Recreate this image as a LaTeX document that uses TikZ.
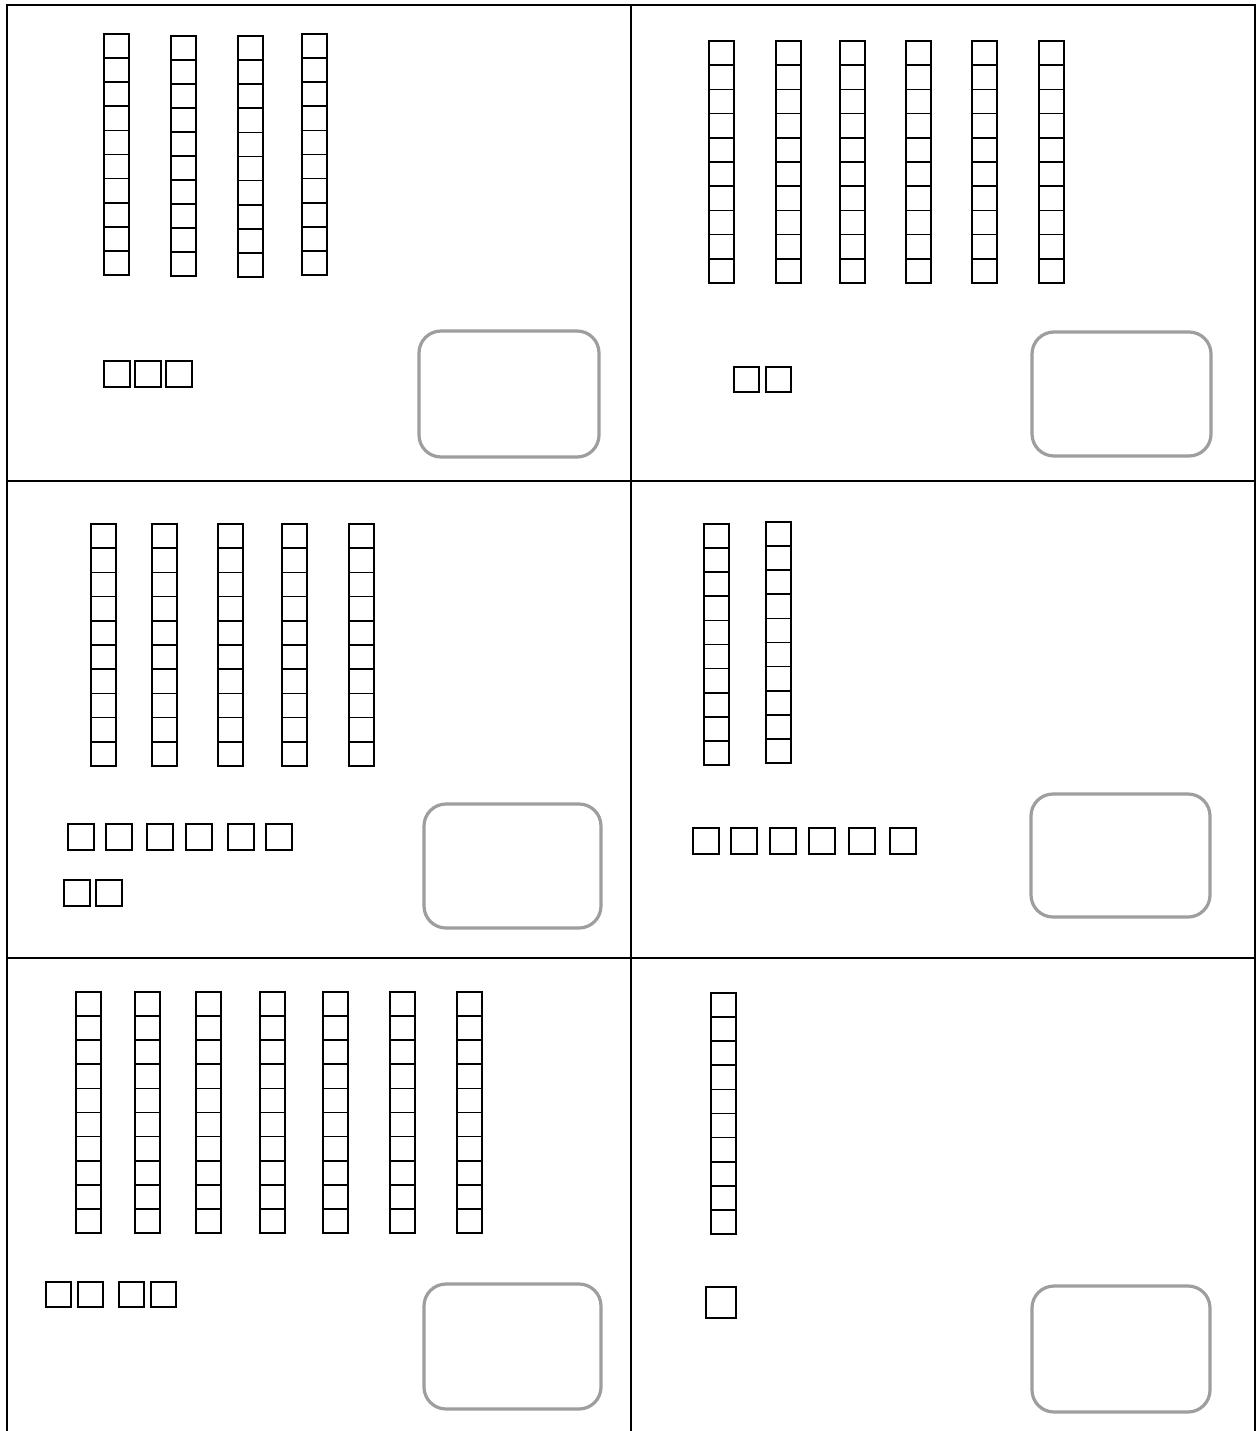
\documentclass[tikz,border=0pt]{standalone}
\usepackage{tikz}
\tikzset{
  grid line/.style={draw=black, line width=2pt},
  rod/.style={draw=black, line width=1.7pt},
  unit/.style={draw=black, line width=1.9pt},
  answer/.style={draw=black!38, line width=3.2pt, rounded corners=22pt},
}
\newcommand\rodcol[3]{%
  \draw[rod] (#1,#2) rectangle ({#1+25},#3);
  \foreach \k in {1,...,9}{\draw[rod] (#1,{#2+\k*(#3-#2)/10}) -- ++(25,0);}
}
\newcommand\unitsq[3]{\draw[unit] (#1,#2) rectangle ({#1+#3},{#2+#3});}
\begin{document}
\begin{tikzpicture}[x=1pt,y=-1pt]
\useasboundingbox (0,0) rectangle (1257,1431);
\fill[white] (0,0) rectangle (1257,1431);
% grid
\draw[grid line] (7,1431) -- (7,5) -- (1255,5) -- (1255,1431);
\draw[grid line] (631,5) -- (631,1431);
\draw[grid line] (7,481) -- (1255,481);
\draw[grid line] (7,958) -- (1255,958);
% panel 1
\rodcol{104}{34}{275}
\rodcol{171}{36}{276}
\rodcol{238}{36}{277}
\rodcol{302}{34}{275}
\foreach \x in {104,135,166}{\unitsq{\x}{361}{26}}
\draw[answer] (419,331) rectangle (599,457);
% panel 2
\foreach \x in {709,776,840,906,972,1039}{\rodcol{\x}{41}{283}}
\foreach \x in {734,766}{\unitsq{\x}{367}{25}}
\draw[answer] (1032,332) rectangle (1211,456);
% panel 3
\foreach \x in {91,152,218,282,349}{\rodcol{\x}{524}{766}}
\foreach \x in {68,106,147,186,228,266}{\unitsq{\x}{824}{26}}
\foreach \x in {64,96}{\unitsq{\x}{880}{26}}
\draw[answer] (424,804) rectangle (601,928);
% panel 4
\rodcol{704}{524}{765}
\rodcol{766}{522}{763}
\foreach \x in {693,731,770,809,849,890}{\unitsq{\x}{828}{26}}
\draw[answer] (1031,794) rectangle (1210,917);
% panel 5
\foreach \x in {76,135,196,260,323,390,457}{\rodcol{\x}{992}{1233}}
\foreach \x in {46,78,119,151}{\unitsq{\x}{1282}{25}}
\draw[answer] (424,1284) rectangle (601,1409);
% panel 6
\rodcol{711}{993}{1234}
\draw[unit] (706,1287) rectangle (736,1318);
\draw[answer] (1032,1286) rectangle (1210,1412);
\end{tikzpicture}
\end{document}
